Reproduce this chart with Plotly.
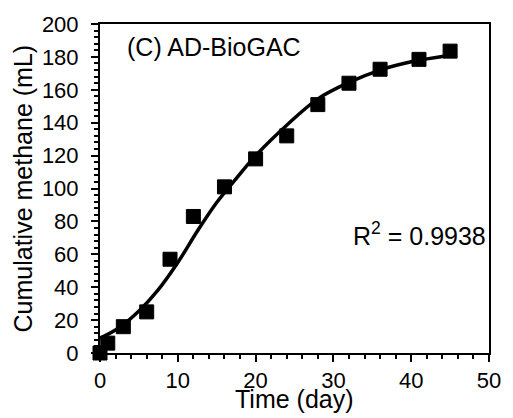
import plotly.graph_objects as go

# Measured cumulative methane production
days = [0, 1, 3, 6, 9, 12, 16, 20, 24, 28, 32, 36, 41, 45]
methane = [0, 6, 16, 25, 57, 83, 101, 118, 132, 151, 164, 172.5, 178.5, 183.5]

# Fitted (modified Gompertz) curve, sampled along the time axis
fit_days = [0, 2.5, 5, 7.5, 10, 12.5, 15, 17.5, 20, 24, 28, 32, 36, 40, 45]
fit_methane = [9, 15.5, 25.5, 38.5, 55, 74, 91.5, 106, 120, 138.5, 154.5, 164.5, 172, 177, 181]

x_ticks = [0, 10, 20, 30, 40, 50]
y_ticks = [0, 20, 40, 60, 80, 100, 120, 140, 160, 180, 200]

panel_label = "(C) AD-BioGAC"
r2_label = "R<sup>2</sup> = 0.9938"

FONT = "Arial, Liberation Sans, sans-serif"

fig = go.Figure()
fig.add_trace(go.Scatter(
    x=fit_days, y=fit_methane, mode="lines",
    line=dict(color="black", width=3.5, shape="spline", smoothing=1.0),
    hoverinfo="skip", cliponaxis=False,
))
fig.add_trace(go.Scatter(
    x=days, y=methane, mode="markers",
    marker=dict(symbol="square", size=14, color="black",
                line=dict(color="black", width=1)),
    cliponaxis=False,
))

axis_common = dict(
    showgrid=False, zeroline=False,
    showline=True, linecolor="black", linewidth=2, mirror=True,
    ticks="outside", ticklen=7, tickwidth=2, tickcolor="black",
    tickfont=dict(family=FONT, size=22, color="black"),
)

fig.update_xaxes(
    range=[0, 50], tickvals=x_ticks, ticktext=[str(v) for v in x_ticks],
    minor=dict(dtick=2, ticks="outside", ticklen=4, tickwidth=2, tickcolor="black"),
    **axis_common,
)
fig.update_yaxes(
    range=[0, 200], tickvals=y_ticks, ticktext=[str(v) for v in y_ticks],
    minor=dict(dtick=4, ticks="outside", ticklen=4, tickwidth=2, tickcolor="black"),
    ticklabelstandoff=8,
    **axis_common,
)

fig.update_layout(
    width=513, height=418,
    margin=dict(l=100, r=12, t=16, b=65),
    paper_bgcolor="white", plot_bgcolor="white",
    showlegend=False,
    font=dict(family=FONT, color="black"),
    annotations=[
        dict(text="Time (day)", xref="paper", yref="paper", x=0.5, y=0,
             yshift=-30, xanchor="center", yanchor="top", showarrow=False,
             font=dict(family=FONT, size=25, color="black")),
        dict(text="Cumulative methane (mL)", xref="paper", yref="paper",
             x=0, y=0.5, xshift=-78, xanchor="center", yanchor="middle",
             textangle=-90, showarrow=False,
             font=dict(family=FONT, size=25, color="black")),
        dict(text=panel_label, xref="paper", yref="paper", x=0, y=1,
             xshift=25, yshift=-7, xanchor="left", yanchor="top",
             showarrow=False, font=dict(family=FONT, size=25, color="black")),
        dict(text=r2_label, xref="paper", yref="paper", x=1, y=0.35,
             xshift=-1, yshift=4, xanchor="right", yanchor="middle",
             showarrow=False, font=dict(family=FONT, size=25, color="black")),
    ],
)

fig.write_html("out.html")
